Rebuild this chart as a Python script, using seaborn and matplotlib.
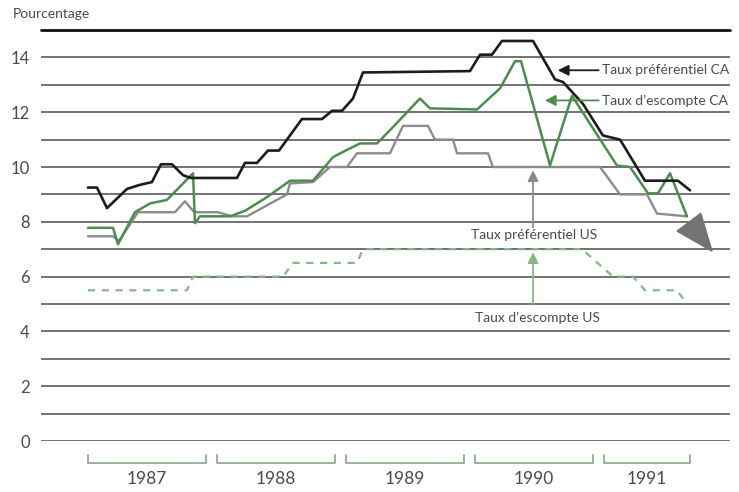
import numpy as np
import pandas as pd
import seaborn as sns
import matplotlib
matplotlib.use("Agg")
import matplotlib.pyplot as plt
from matplotlib.patches import Polygon
from matplotlib.transforms import blended_transform_factory

# Time axis: months elapsed since January 1987
years = [1987, 1988, 1989, 1990, 1991]
year_months = [12, 12, 12, 12, 9]

# Taux préférentiel CA
prime_ca_t = [0.0, 0.84, 1.77, 3.63, 4.84, 5.95, 6.79, 7.81, 8.84, 9.58, 13.86, 14.6,
              15.72, 16.74, 17.77, 19.9, 21.77, 22.7, 23.63, 24.65, 25.58, 35.53, 36.47,
              37.58, 38.51, 41.4, 43.44, 44.19, 46.05, 47.9, 49.49, 51.81, 54.88, 56.0]
prime_ca_v = [9.25, 9.25, 8.5, 9.2, 9.35, 9.45, 10.1, 10.1, 9.7, 9.6, 9.6, 10.15,
              10.15, 10.6, 10.6, 11.75, 11.75, 12.05, 12.05, 12.5, 13.45, 13.5, 14.1,
              14.1, 14.6, 14.6, 13.2, 13.1, 12.3, 11.15, 11.0, 9.5, 9.5, 9.15]

# Taux d'escompte CA
disc_ca_t = [0.0, 2.33, 2.79, 4.37, 5.77, 7.35, 9.77, 9.95, 10.42, 13.21, 14.6, 16.65,
             18.79, 20.93, 22.79, 23.72, 25.3, 26.88, 28.09, 30.88, 31.81, 36.19, 38.33,
             39.72, 40.28, 42.98, 45.02, 49.21, 50.42, 52.09, 53.02, 54.14, 55.72]
disc_ca_v = [7.78, 7.78, 7.18, 8.35, 8.67, 8.8, 9.77, 7.95, 8.2, 8.2, 8.4, 8.9,
             9.5, 9.5, 10.36, 10.55, 10.86, 10.86, 11.34, 12.5, 12.14, 12.1, 12.87,
             13.86, 13.86, 10.06, 12.6, 10.05, 10.0, 9.04, 9.04, 9.77, 8.2]

# Taux préférentiel US
prime_us_t = [0.0, 2.33, 2.88, 4.65, 8.09, 9.02, 9.77, 10.14, 12.09, 13.4, 14.79, 18.51,
              18.79, 20.93, 22.51, 24.09, 25.02, 28.09, 29.3, 31.63, 32.28, 33.95, 34.33,
              37.21, 37.67, 47.63, 49.49, 52.0, 52.93, 55.72]
prime_us_v = [7.47, 7.47, 7.3, 8.35, 8.35, 8.75, 8.4, 8.35, 8.35, 8.2, 8.2, 9.0,
              9.4, 9.45, 10.0, 10.0, 10.5, 10.5, 11.5, 11.5, 11.0, 11.0, 10.5,
              10.5, 10.0, 10.0, 9.0, 9.0, 8.3, 8.2]

# Taux d'escompte US
disc_us_t = [0.0, 9.21, 9.77, 18.14, 19.07, 25.02, 25.58, 45.95, 48.84, 50.7, 51.81,
             54.79, 55.53]
disc_us_v = [5.5, 5.5, 6.0, 6.0, 6.5, 6.5, 7.0, 7.0, 6.0, 6.0, 5.5, 5.5, 5.1]

sns.set_theme(style="white")
plt.rcParams["font.family"] = ["Lato", "DejaVu Sans"]

TEXT = "#4a4a4a"
GRID = "#4d4d4d"
BLACK = "#1c1c1c"
GREEN = "#4e8c4e"
GRAY = "#8c8c8c"
LIGHT_GREEN = "#86b886"
BRACKET = "#8fae8f"

fig = plt.figure(figsize=(7.39, 4.92), dpi=100)
ax = fig.add_axes([41 / 739, 1 - 441 / 492, (730 - 41) / 739, (441 - 30) / 492])

ax.set_xlim(-4.37, 59.72)
ax.set_ylim(0, 15)

# horizontal rules at every unit, heavy rule on top
for v in range(0, 15):
    ax.axhline(v, color=GRID, lw=1.1, zorder=1)
ax.axhline(15, color="#111111", lw=2.0, zorder=1, clip_on=False)

series = [
    (disc_us_t, disc_us_v, LIGHT_GREEN, 1.6, (0, (3.2, 3))),
    (prime_us_t, prime_us_v, GRAY, 1.7, "-"),
    (disc_ca_t, disc_ca_v, GREEN, 1.8, "-"),
    (prime_ca_t, prime_ca_v, BLACK, 1.9, "-"),
]
for i, (t, v, c, lw, ls) in enumerate(series):
    df = pd.DataFrame({"t": t, "v": v})
    sns.lineplot(data=df, x="t", y="v", ax=ax, color=c, lw=lw, linestyle=ls,
                 estimator=None, sort=False, zorder=3 + i)

# trend arrowhead at the end of the series
ax.add_patch(Polygon([[54.8, 7.66], [57.0, 8.31], [58.05, 6.93]], closed=True,
                     facecolor="#737373", edgecolor="#737373", zorder=8, clip_on=False))

ax.set_xlabel("")
ax.set_ylabel("")
ax.set_xticks([])
ax.set_yticks(range(0, 15, 2))
ax.set_yticklabels([str(v) for v in range(0, 15, 2)])
ax.tick_params(axis="y", length=0, pad=8, labelsize=12, labelcolor=TEXT)
for s in ax.spines.values():
    s.set_visible(False)

fig.text(13 / 739, 1 - 14 / 492, "Pourcentage", ha="left", va="center",
         fontsize=10, color=TEXT)

# year brackets under the axis
tr = blended_transform_factory(ax.transData, ax.transAxes)
start = 0
for yr, n in zip(years, year_months):
    end = start + n - 1
    ax.plot([start, start, end, end], [-0.034, -0.0535, -0.0535, -0.034],
            color=BRACKET, lw=1.3, transform=tr, clip_on=False)
    ax.text((start + end) / 2, -0.092, str(yr), transform=tr, ha="center",
            va="center", fontsize=12.5, color=TEXT)
    start += n

# series labels with pointers
LABEL_FS = 10
arrow_kw = dict(arrowstyle="-|>", mutation_scale=16, lw=1.3, shrinkA=0, shrinkB=0)
ax.annotate("", xy=(43.7, 13.53), xytext=(47.5, 13.53),
            arrowprops=dict(color=BLACK, **arrow_kw), zorder=9)
ax.text(47.8, 13.53, "Taux préférentiel CA", ha="left", va="center",
        fontsize=LABEL_FS, color=TEXT)
ax.annotate("", xy=(42.5, 12.43), xytext=(47.5, 12.43),
            arrowprops=dict(color=GREEN, **arrow_kw), zorder=9)
ax.text(47.8, 12.43, "Taux d\u2019escompte CA", ha="left", va="center",
        fontsize=LABEL_FS, color=TEXT)

ax.annotate("", xy=(41.4, 9.88), xytext=(41.4, 7.8),
            arrowprops=dict(color=GRAY, **arrow_kw), zorder=9)
ax.text(41.5, 7.51, "Taux préférentiel US", ha="center", va="center",
        fontsize=LABEL_FS, color=TEXT,
        bbox=dict(facecolor="white", edgecolor="none", pad=1))
ax.annotate("", xy=(41.4, 6.89), xytext=(41.4, 5.0),
            arrowprops=dict(color=LIGHT_GREEN, **arrow_kw), zorder=9)
ax.text(41.8, 4.48, "Taux d\u2019escompte US", ha="center", va="center",
        fontsize=LABEL_FS, color=TEXT,
        bbox=dict(facecolor="white", edgecolor="none", pad=1))

fig.savefig("out.png", dpi=100, facecolor="white")
